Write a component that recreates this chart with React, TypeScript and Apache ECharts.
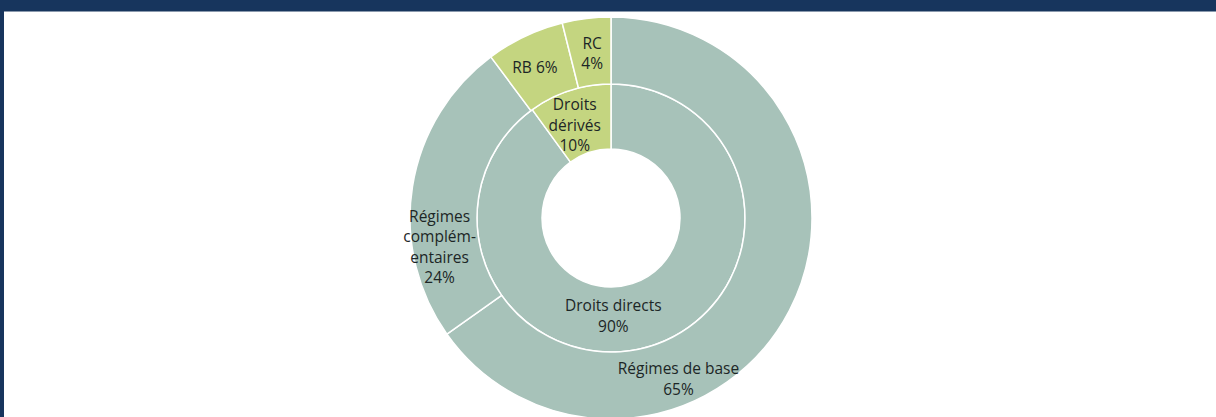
import React, { useEffect, useRef } from "react";
import * as echarts from "echarts";

const innerNames = ["Droits directs", "Droits dérivés"];
const innerValues = [90, 10];
const innerLabels = ["Droits directs\n90%", "Droits\ndérivés\n10%"];

const outerNames = ["Régimes de base", "Régimes complémentaires", "RB", "RC"];
const outerValues = [65.2, 24.6, 6.3, 3.9];
const outerLabels = ["Régimes de base\n65%", "Régimes\ncomplém-\nentaires\n24%", "RB 6%", "RC\n4%"];

const GREY = "#a7c2b9";
const GREEN = "#c4d580";
const innerColors = [GREY, GREEN];
const outerColors = [GREY, GREY, GREEN, GREEN];

const innerShift = [
  { dx: -30, dy: -2 },
  { dx: -4, dy: 6 },
];
const outerShift = [
  { dx: -84, dy: 82 },
  { dx: -3, dy: 55 },
  { dx: -3, dy: 3 },
  { dx: 2, dy: 4 },
];

export default function App() {
  const ref = useRef<HTMLDivElement>(null);
  useEffect(() => {
    document.body.style.margin = "0";
    const chart = echarts.init(ref.current!, null, { renderer: "svg" });
    const labelStyle = {
      show: true,
      position: "inside",
      color: "#1c2626",
      fontSize: 15.5,
      lineHeight: 20.5,
      fontFamily: "Open Sans",
      align: "center",
    };
    chart.setOption({
      animation: false,
      backgroundColor: "#ffffff",
      graphic: [
        { type: "rect", shape: { x: 0, y: 0, width: 1216, height: 11.5 }, style: { fill: "#17355d" }, silent: true },
        { type: "rect", shape: { x: 0, y: 0, width: 4, height: 417 }, style: { fill: "#17355d" }, silent: true },
      ],
      series: [
        {
          type: "pie",
          center: [611, 218],
          radius: [69, 134],
          startAngle: 90,
          clockwise: true,
          silent: true,
          itemStyle: { borderColor: "#ffffff", borderWidth: 1.5 },
          label: { ...labelStyle, formatter: (p: any) => innerLabels[p.dataIndex] },
          labelLine: { show: false },
          labelLayout: (p: any) => innerShift[p.dataIndex],
          data: innerNames.map((n, i) => ({ name: n, value: innerValues[i], itemStyle: { color: innerColors[i] } })),
        },
        {
          type: "pie",
          center: [611, 218],
          radius: [134, 201],
          startAngle: 90,
          clockwise: true,
          silent: true,
          itemStyle: { borderColor: "#ffffff", borderWidth: 1.5 },
          label: { ...labelStyle, formatter: (p: any) => outerLabels[p.dataIndex] },
          labelLine: { show: false },
          labelLayout: (p: any) => outerShift[p.dataIndex],
          data: outerNames.map((n, i) => ({ name: n, value: outerValues[i], itemStyle: { color: outerColors[i] } })),
        },
      ],
    });
    return () => chart.dispose();
  }, []);
  return <div ref={ref} style={{ width: 1216, height: 417 }} />;
}
